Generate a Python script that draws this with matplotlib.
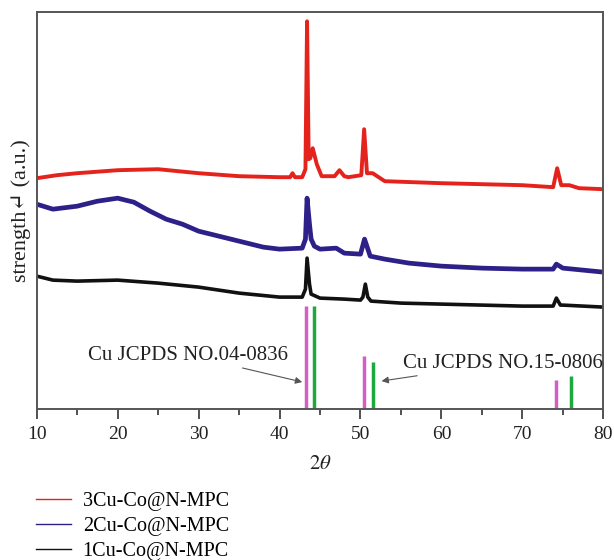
import numpy as np
import matplotlib.pyplot as plt

plt.rcParams['font.family'] = ['Liberation Serif', 'DejaVu Serif']
plt.rcParams['mathtext.fontset'] = 'stix'

# 2theta / intensity (a.u.)
x3 = [10, 12.5, 15, 20, 25, 30, 35, 40, 41.3, 41.6, 41.9, 42.8, 43.2, 43.4, 43.6,
      43.8, 44.1, 44.6, 45.2, 46.8, 47.4, 48.0, 48.5, 50.1, 50.45, 50.8, 51.5, 53,
      60, 65, 70, 73.8, 74.3, 74.8, 75.8, 77, 80]
y3 = [231, 234, 236, 239, 240, 236, 233, 232, 232, 236, 232, 232, 240, 388, 250,
      251, 261, 245, 233, 233, 239, 233, 232, 234, 280, 236, 236, 228,
      226, 225, 224, 222, 241, 224, 224, 221, 220]

x2 = [10, 12, 15, 17.5, 20, 22, 24, 26, 28, 30, 32, 35, 38, 40, 42.8, 43.2, 43.4,
      43.7, 43.9, 44.3, 45, 47, 48, 50, 50.5, 51.2, 53, 56, 60, 65, 70, 73.8, 74.2,
      75, 80]
y2 = [205, 200, 203, 208, 211, 207, 198, 190, 185, 178, 174, 168, 162, 160, 161,
      170, 211, 185, 170, 163, 160, 161, 156, 155, 170, 153, 150, 146, 143, 141,
      140, 140, 145, 141, 137]

x1 = [10, 12, 15, 20, 25, 30, 35, 40, 42.8, 43.2, 43.4, 43.7, 43.9, 45, 48, 50,
      50.3, 50.6, 50.9, 51.3, 55, 60, 65, 70, 73.8, 74.2, 74.7, 75, 80]
y1 = [133, 129, 128, 129, 126, 122, 116, 112, 112, 120, 151, 125, 115, 111, 110,
      109, 112, 125, 112, 108, 106, 105, 104, 103, 103, 111, 104, 104, 102]

# reference patterns
cu_pos = [43.3, 50.45, 74.2]
cu_int = [103, 53, 29]
co_pos = [44.25, 51.55, 76.0]
co_int = [103, 47, 33]

labels = ['3Cu-Co@N-MPC', '2Cu-Co@N-MPC', '1Cu-Co@N-MPC']
colors = ['#e5231d', '#2d2088', '#111111']

fig = plt.figure(figsize=(6.14, 5.6), dpi=100)
ax = fig.add_axes([0.0598, 0.2696, 0.9228, 0.7084])

ax.plot(x3, y3, color=colors[0], lw=2.8, label=labels[0])
ax.plot(x2, y2, color=colors[1], lw=3.4, label=labels[1])
ax.plot(x1, y1, color=colors[2], lw=2.6, label=labels[2])

ax.vlines(cu_pos, 0, cu_int, color='#d35fc4', lw=2.5)
ax.vlines(co_pos, 0, co_int, color='#1caa3e', lw=2.5)

ax.annotate('Cu JCPDS NO.04-0836', xy=(42.8, 27), xytext=(41.0, 54),
            ha='right', va='center', fontsize=15, color='#222222',
            arrowprops=dict(arrowstyle='-|>', color='#555555', lw=0.8,
                            mutation_scale=10, shrinkA=2, shrinkB=0))
ax.annotate('Cu JCPDS NO.15-0806', xy=(52.6, 28), xytext=(55.2, 46),
            ha='left', va='center', fontsize=15, color='#222222',
            arrowprops=dict(arrowstyle='-|>', color='#555555', lw=0.8,
                            mutation_scale=10, shrinkA=2, shrinkB=0))

ax.set_xlim(10, 80)
ax.set_ylim(0, 397)
ax.set_xticks(np.arange(10, 81, 10))
ax.set_xticks(np.arange(15, 80, 10), minor=True)
ax.set_yticks([])
ax.tick_params(axis='x', which='major', length=7, width=1.2, direction='out',
               labelsize=14, colors='#333333', labelcolor='#222222', pad=5)
ax.tick_params(axis='x', which='minor', length=4, width=1.2, direction='out',
               colors='#333333')
for s in ax.spines.values():
    s.set_color('#555555')
    s.set_linewidth(1.4)

ax.set_xlabel(r'$2\theta$', fontsize=15, color='#222222', labelpad=9)
ax.set_ylabel('strength\u21b5 (a.u.)', fontsize=16, color='#222222', labelpad=4)

h, l = ax.get_legend_handles_labels()
leg = fig.legend(h, l, loc='upper left', bbox_to_anchor=(0.0586, 0.121),
                 frameon=False, fontsize=14.5, handlelength=1.72,
                 labelspacing=0.28, handletextpad=0.6, borderaxespad=0,
                 borderpad=0)
for line in leg.get_lines():
    line.set_linewidth(1.0)

fig.savefig('out.png', dpi=100)
